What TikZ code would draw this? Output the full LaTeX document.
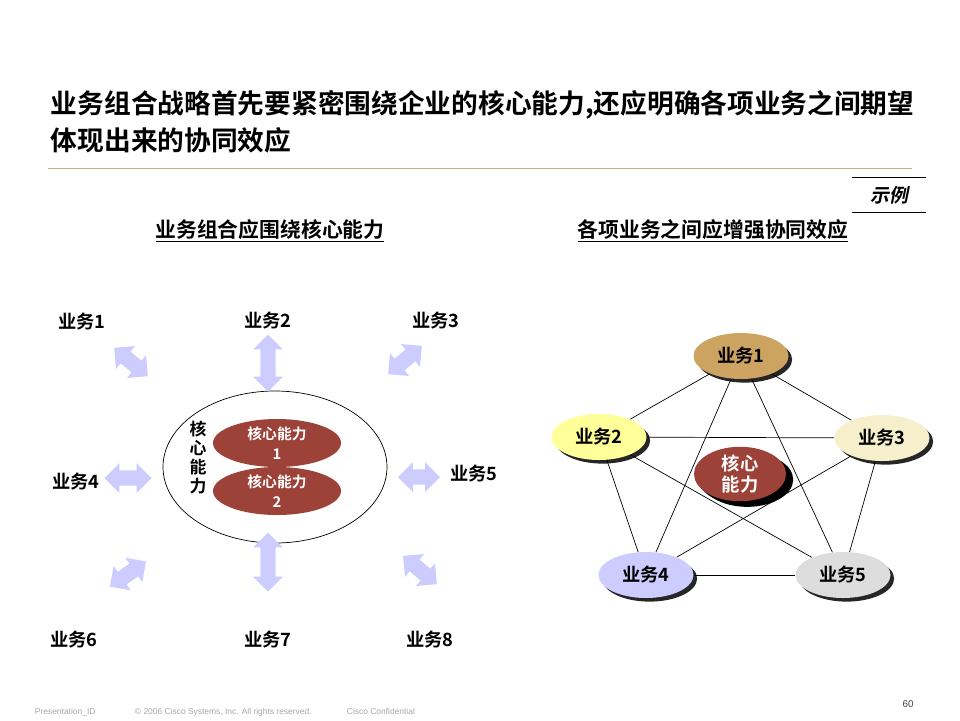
\documentclass[tikz,border=0pt]{standalone}
\usepackage{fontspec}
\setmainfont{Noto Sans CJK SC}[BoldFont={Noto Sans CJK SC Bold}]
\newfontfamily\exfont{Noto Sans CJK SC Bold}[FakeSlant=0.2]
\newfontfamily\footfont{Liberation Sans}
\usepackage{xcolor}
\usepackage{tikz}
\usetikzlibrary{positioning,shapes,shapes.arrows,shadows,backgrounds}

\definecolor{capred}{RGB}{156,66,56}
\definecolor{arrowblue}{RGB}{204,204,255}
\definecolor{rulegold}{RGB}{200,176,122}
\definecolor{bizone}{RGB}{205,163,98}
\definecolor{biztwo}{RGB}{255,255,153}
\definecolor{bizthree}{RGB}{245,240,203}
\definecolor{bizfour}{RGB}{204,204,255}
\definecolor{bizfive}{RGB}{221,221,221}

\begin{document}
\begin{tikzpicture}[
    x=0.25mm, y=-0.25mm,
    title/.style   = {font=\bfseries\fontsize{19}{26.2}\selectfont, align=left, anchor=west},
    subhead/.style = {font=\bfseries\fontsize{14.8}{17}\selectfont},
    lbl/.style     = {font=\bfseries\fontsize{13}{15}\selectfont},
    biarrow/.style = {double arrow, fill=arrowblue, draw=none, inner xsep=0pt,
                      inner ysep=1.85mm, double arrow head extend=1.8mm},
    capnode/.style = {ellipse, fill=capred, text=white, inner sep=0pt, align=center,
                      minimum width=32mm, minimum height=12mm,
                      font=\bfseries\fontsize{10.5}{14}\selectfont},
    biz/.style     = {ellipse, inner sep=0pt, minimum width=23.75mm, minimum height=11.5mm,
                      font=\bfseries\fontsize{13}{15}\selectfont,
                      drop shadow={shadow xshift=0.9mm, shadow yshift=-0.9mm,
                                   fill=black, opacity=0.85}},
    link/.style    = {draw=black, line width=0.5pt},
    foot/.style    = {font=\footfont\fontsize{6}{7}\selectfont, text=black!35, anchor=base west},
]
\useasboundingbox (0,0) rectangle (960,720);

% heading
\node[title] (head) at (46,122) {业务组合战略首先要紧密围绕企业的核心能力,还应明确各项业务之间期望\\
                                 体现出来的协同效应};
\draw[rulegold, line width=0.6pt] (48,168) -- (912,168);

\node[inner sep=0pt, minimum width=18.25mm, minimum height=8.75mm,
      font=\exfont\fontsize{13.5}{15}\selectfont] (ex) at (889,195) {示例};
\draw[line width=0.8pt] (ex.north west) -- (ex.north east);
\draw[line width=0.8pt] (ex.south west) -- (ex.south east);

\node[subhead] (lhead) at (270,231) {\underline{业务组合应围绕核心能力}};
\node[subhead] (rhead) at (713,231) {\underline{各项业务之间应增强协同效应}};

% left: businesses around the core
\node[ellipse, draw=black, line width=0.5pt, minimum width=56mm, minimum height=38mm] (ring) at (275,467) {};
\node[capnode] (capone) at (277,443) {核心能力\\1};
\node[capnode] (captwo) at (277,491) {核心能力\\2};
\node[lbl, align=center, font=\bfseries\fontsize{12}{13.5}\selectfont] (vcap) at (198,458) {核\\心\\能\\力};

\node[lbl] (l1) at (82,322)  {业务1};
\node[lbl] (l2) at (268,321) {业务2};
\node[lbl] (l3) at (436,321) {业务3};
\node[lbl] (l4) at (76,482)  {业务4};
\node[lbl] (l5) at (474,474) {业务5};
\node[lbl] (l6) at (74,640)  {业务6};
\node[lbl] (l7) at (268,640) {业务7};
\node[lbl] (l8) at (430,640) {业务8};

\node[biarrow, minimum height=11mm, rotate=-40] (a1) at (131,362) {};
\node[biarrow, minimum height=14.25mm, rotate=90] (a2) at (268,363) {};
\node[biarrow, minimum height=11mm, rotate=40]  (a3) at (405,360) {};
\node[biarrow, minimum height=11.75mm] (a4) at (128,478) {};
\node[biarrow, minimum height=10.5mm]  (a5) at (419,477) {};
\node[biarrow, minimum height=11mm, rotate=35]  (a6) at (128,574) {};
\node[biarrow, minimum height=14.75mm, rotate=90] (a7) at (268,562) {};
\node[biarrow, minimum height=11mm, rotate=-40] (a8) at (420,570) {};

% right: synergy between businesses
\node[biz, fill=bizone]   (b1) at (741,356) {业务1};
\node[biz, fill=biztwo]   (b2) at (599,437) {业务2};
\node[biz, fill=bizthree] (b3) at (882,438) {业务3};
\node[biz, fill=bizfour]  (b4) at (646,575) {业务4};
\node[biz, fill=bizfive]  (b5) at (843,575) {业务5};
\node[biz, fill=capred, text=white, minimum width=23mm, minimum height=13mm,
      font=\bfseries\fontsize{13}{15}\selectfont, align=center,
      drop shadow={shadow xshift=1.8mm, shadow yshift=-1.4mm, fill=black, opacity=1}]
      (kc) at (740,474) {核心\\能力};

\begin{scope}[on background layer]
\foreach \a/\b in {b1/b2, b1/b3, b1/b4, b1/b5, b2/b3, b2/b4, b2/b5, b3/b4, b3/b5, b4/b5}
    \draw[link] (\a) -- (\b);
\end{scope}

% footer
\node[foot] (fid)  at (30,714)  {Presentation\_ID};
\node[foot] (fcop) at (130,714) {© 2006 Cisco Systems, Inc. All rights reserved.};
\node[foot] (fcon) at (342,714) {Cisco Confidential};
\node[font=\footfont\fontsize{7}{8}\selectfont, text=black!75] (pg) at (908,704) {60};
\end{tikzpicture}
\end{document}
